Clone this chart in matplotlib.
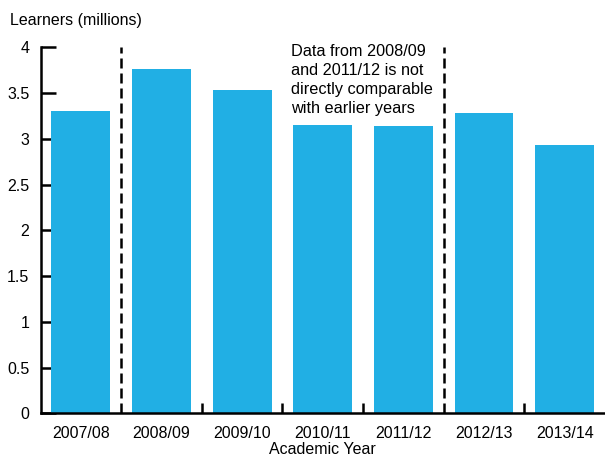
import matplotlib
matplotlib.use("Agg")
import matplotlib.pyplot as plt

years = ["2007/08", "2008/09", "2009/10", "2010/11", "2011/12", "2012/13", "2013/14"]
learners = [3.30, 3.76, 3.53, 3.15, 3.14, 3.28, 2.93]
y_ticks = [0, 0.5, 1, 1.5, 2, 2.5, 3, 3.5, 4]
y_tick_labels = ["0", "0.5", "1", "1.5", "2", "2.5", "3", "3.5", "4"]
break_positions = [0.5, 4.5]
note = "Data from 2008/09\nand 2011/12 is not\ndirectly comparable\nwith earlier years"

plt.rcParams["font.family"] = ["Liberation Sans", "DejaVu Sans"]
plt.rcParams["font.size"] = 11.5

fig = plt.figure(figsize=(6.05, 4.57), dpi=100)
ax = fig.add_axes([40.5 / 605, (457 - 413.4) / 457, 1 - 40.5 / 605, (413.4 - 47.4) / 457])

x = list(range(len(years)))
ax.bar(x, learners, width=0.73, color="#21AFE4", zorder=2)

ax.set_xlim(-0.5, len(years) - 0.5)
ax.set_ylim(0, 4)

for s in ["top", "right"]:
    ax.spines[s].set_visible(False)
for s in ["left", "bottom"]:
    ax.spines[s].set_linewidth(1.8)
    ax.spines[s].set_color("black")

ax.set_yticks(y_ticks)
ax.set_yticklabels(y_tick_labels)
ax.tick_params(axis="y", direction="in", length=11, width=1.8, pad=8, labelsize=11.5)

ax.set_xticks(x)
ax.set_xticklabels(years)
ax.tick_params(axis="x", which="major", length=0, pad=9, labelsize=11.5)
minor = [i + 0.5 for i in range(len(years) - 1) if (i + 0.5) not in break_positions]
ax.set_xticks(minor, minor=True)
ax.tick_params(axis="x", which="minor", direction="in", length=7.5, width=1.8)

# dashed separators where the data series is not directly comparable
for bp in break_positions:
    ax.axvline(bp, ymin=0, ymax=1, color="black", linewidth=1.8,
               linestyle=(0, (4, 2)), zorder=3)

ax.set_xlabel("Academic Year", fontsize=11.5, labelpad=1)
fig.text(10 / 605, 1 - 20 / 457, "Learners (millions)", fontsize=11.5,
         ha="left", va="center")

ax.text(291 / 605, 1 - 44 / 457, note, transform=fig.transFigure,
        ha="left", va="top", fontsize=11.7, linespacing=1.33)

fig.savefig("out.png", dpi=100)
